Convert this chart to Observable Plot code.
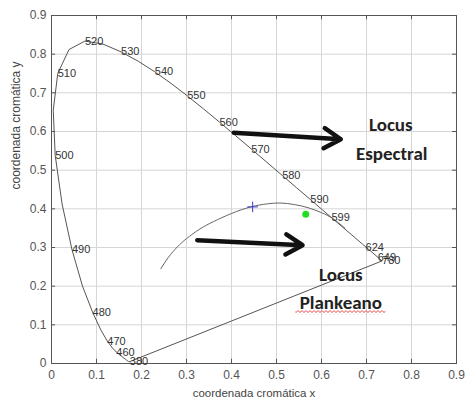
<!DOCTYPE html>
<html>
<head>
<meta charset="utf-8">
<script src="https://cdn.jsdelivr.net/npm/d3@7"></script>
<script src="https://cdn.jsdelivr.net/npm/@observablehq/plot@0.6"></script>
<style>
  html, body { margin: 0; padding: 0; background: #fff; }
</style>
</head>
<body>
<svg width="0" height="0" style="position:absolute">
  <defs>
    <pattern id="squiggle" patternUnits="userSpaceOnUse" width="4" height="4">
      <path d="M0 3 L2 1 L4 3" fill="none" stroke="#e03030" stroke-width="0.9"/>
    </pattern>
  </defs>
</svg>
<div id="chart"></div>
<script>
// Spectral locus (CIE 1931 xy chromaticities, read along the horseshoe)
const specX = [0.1741,0.1733,0.1714,0.1689,0.1644,0.1566,0.1440,0.1355,0.1241,0.1096,0.0913,0.0687,0.0454,0.0235,0.0082,0.0039,0.0139,0.0389,0.0743,0.1142,0.1547,0.1929,0.2296,0.2658,0.3016,0.3373,0.3731,0.4087,0.4441,0.4788,0.5125,0.5448,0.5752,0.6029,0.6270,0.6658,0.6915,0.7079,0.7190,0.7260,0.7300,0.7334,0.7347];
const specY = [0.0050,0.0048,0.0051,0.0069,0.0109,0.0177,0.0297,0.0399,0.0578,0.0868,0.1327,0.2007,0.2950,0.4127,0.5384,0.6548,0.7502,0.8120,0.8338,0.8262,0.8059,0.7816,0.7543,0.7243,0.6923,0.6589,0.6245,0.5896,0.5547,0.5202,0.4866,0.4544,0.4242,0.3965,0.3725,0.3340,0.3083,0.2920,0.2809,0.2740,0.2700,0.2666,0.2653];

// Wavelength labels on the locus
const labelText = ["380","460","470","480","490","500","510","520","530","540","550","560","570","580","590","599","624","649","780"];
const labelX = [0.1741,0.1440,0.1241,0.0913,0.0454,0.0082,0.0139,0.0743,0.1547,0.2296,0.3016,0.3731,0.4441,0.5125,0.5752,0.622,0.698,0.725,0.7347];
const labelY = [0.0050,0.0297,0.0578,0.1327,0.2950,0.5384,0.7502,0.8338,0.8059,0.7543,0.6923,0.6245,0.5547,0.4866,0.4242,0.377,0.301,0.275,0.2653];

// Planckian locus
const planckX = [0.243,0.260,0.280,0.300,0.330,0.360,0.400,0.443,0.480,0.510,0.540,0.570,0.600,0.625,0.652];
const planckY = [0.245,0.275,0.302,0.323,0.348,0.367,0.388,0.405,0.413,0.415,0.411,0.403,0.390,0.375,0.350];

// Special points
const illumA = [{x: 0.447, y: 0.405}];
const greenPt = [{x: 0.565, y: 0.386}];

// Annotation arrows and texts
const arrowX1 = [0.405, 0.324], arrowY1 = [0.597, 0.319];
const arrowX2 = [0.643, 0.558], arrowY2 = [0.580, 0.306];
const noteText = ["Locus", "Espectral", "Locus"];
const noteX = [0.754, 0.756, 0.643];
const noteY = [0.616, 0.543, 0.228];
const plankText = ["Plankeano"], plankX = [0.643], plankY = [0.156];
const plankHalfWidth = 0.1;

// Ticks
const xTicks = [0,0.1,0.2,0.3,0.4,0.5,0.6,0.7,0.8,0.9];
const yTicks = [0,0.1,0.2,0.3,0.4,0.5,0.6,0.7,0.8,0.9];

const spectral = specX.map((x, i) => ({x, y: specY[i]}));
const closed = spectral.concat([spectral[0]]);
const labels = labelText.map((t, i) => ({t, x: labelX[i], y: labelY[i]}));
const planck = planckX.map((x, i) => ({x, y: planckY[i]}));
const arrows = arrowX1.map((x1, i) => ({x1, y1: arrowY1[i], x2: arrowX2[i], y2: arrowY2[i]}));
const notes = noteText.map((t, i) => ({t, x: noteX[i], y: noteY[i]}));
const plank = plankText.map((t, i) => ({t, x: plankX[i], y: plankY[i], x1: plankX[i] - plankHalfWidth, x2: plankX[i] + plankHalfWidth}));

const noteFont = "Carlito, Lato, 'Open Sans', sans-serif";

const chart = Plot.plot({
  width: 465,
  height: 399,
  marginLeft: 51,
  marginRight: 9,
  marginTop: 15,
  marginBottom: 36,
  style: {fontFamily: "'Liberation Sans', Arial, sans-serif", background: "#fff"},
  x: {domain: [0, 0.9], axis: null, label: null},
  y: {domain: [0, 0.9], axis: null, label: null},
  marks: [
    Plot.gridX(xTicks, {stroke: "#d6d6d6", strokeOpacity: 1}),
    Plot.gridY(yTicks, {stroke: "#d6d6d6", strokeOpacity: 1}),
    Plot.ruleX(xTicks, {y1: 0, y2: 0.011, stroke: "#555"}),
    Plot.ruleX(xTicks, {y1: 0.9, y2: 0.889, stroke: "#555"}),
    Plot.ruleY(yTicks, {x1: 0, x2: 0.009, stroke: "#555"}),
    Plot.ruleY(yTicks, {x1: 0.9, x2: 0.891, stroke: "#555"}),
    Plot.frame({stroke: "#555"}),
    Plot.axisX(xTicks, {anchor: "bottom", tickSize: 0, tickPadding: 7, fontSize: 12, fill: "#555", label: null, tickFormat: d => String(d)}),
    Plot.axisY(yTicks, {anchor: "left", tickSize: 0, tickPadding: 5, fontSize: 12, fill: "#555", label: null, tickFormat: d => String(d)}),
    Plot.text(["coordenada cromática x"], {frameAnchor: "bottom", dy: 30, fontSize: 11.5, fill: "#444", lineAnchor: "middle"}),
    Plot.text(["coordenada cromática y"], {frameAnchor: "left", dx: -35, rotate: -90, fontSize: 12, fill: "#444", lineAnchor: "middle"}),
    Plot.line(closed, {x: "x", y: "y", stroke: "#555", strokeWidth: 1}),
    Plot.line(planck, {x: "x", y: "y", stroke: "#666", strokeWidth: 1, curve: "natural"}),
    Plot.text(labels, {x: "x", y: "y", text: "t", textAnchor: "start", fontSize: 11, fill: "#333"}),
    Plot.dot(illumA, {x: "x", y: "y", symbol: "plus", r: 3.5, stroke: "#3a3ac8", strokeWidth: 1}),
    Plot.dot(greenPt, {x: "x", y: "y", r: 3.5, fill: "#22dd22", stroke: "none"}),
    Plot.arrow(arrows, {x1: "x1", y1: "y1", x2: "x2", y2: "y2", stroke: "#111", strokeWidth: 4.5, headLength: 6.5, headAngle: 62}),
    Plot.text(notes, {x: "x", y: "y", text: "t", fontFamily: noteFont, fontWeight: "bold", fontSize: 19, fill: "#222"}),
    Plot.ruleY(plank, {y: "y", x1: "x1", x2: "x2", dy: 9, stroke: "url(#squiggle)", strokeWidth: 4}),
    Plot.text(plank, {x: "x", y: "y", text: "t", fontFamily: noteFont, fontWeight: "bold", fontSize: 19, fill: "#222"})
  ]
});
document.getElementById("chart").appendChild(chart);
</script>
</body>
</html>
